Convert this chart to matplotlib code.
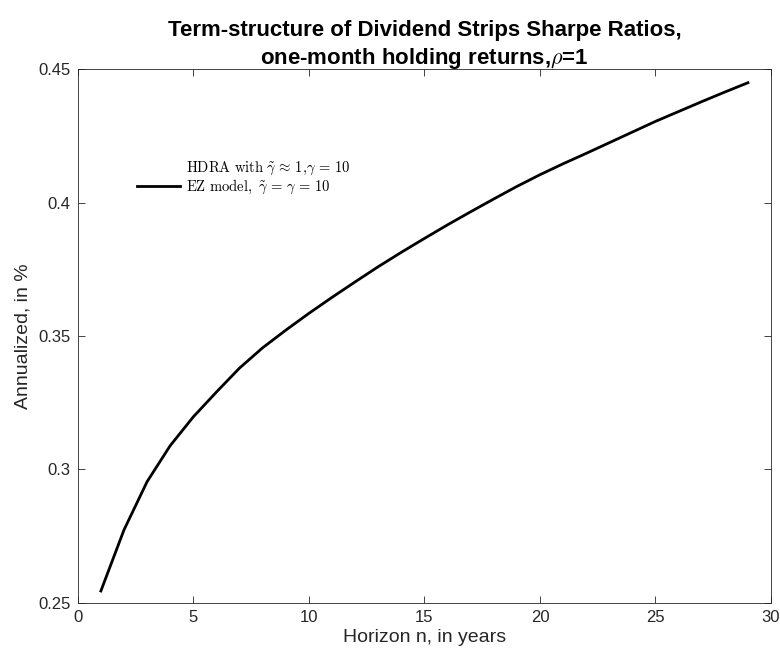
import numpy as np
import matplotlib
matplotlib.use("Agg")
import matplotlib.pyplot as plt
from matplotlib.lines import Line2D

# Sharpe ratios of dividend strips by horizon (one-month holding returns)
horizon = list(range(1, 30))
sharpe_ez = [0.2544, 0.2773, 0.2954, 0.3089, 0.3197, 0.3290, 0.3380, 0.3456,
             0.3522, 0.3585, 0.3645, 0.3703, 0.3760, 0.3814, 0.3866, 0.3917,
             0.3966, 0.4014, 0.4061, 0.4105, 0.4146, 0.4185, 0.4225, 0.4265,
             0.4305, 0.4342, 0.4379, 0.4415, 0.4450]

x_ticks = [0, 5, 10, 15, 20, 25, 30]
y_ticks = [0.25, 0.3, 0.35, 0.4, 0.45]
y_tick_labels = ["0.25", "0.3", "0.35", "0.4", "0.45"]

label_hdra = r"$\mathrm{HDRA\ with\ }\tilde{\gamma}\,\approx\,1{,}\gamma\,=\,10$"
label_ez = r"$\mathrm{EZ\ model,\ }\tilde{\gamma}\,=\,\gamma\,=\,10$"

plt.rcParams["font.family"] = ["Liberation Sans", "DejaVu Sans"]
plt.rcParams["mathtext.fontset"] = "cm"

axis_grey = "#262626"

fig = plt.figure(figsize=(7.8, 6.59), dpi=100)
ax = fig.add_axes([0.0997, 0.0854, 0.8888, 0.8093])

ax.plot(horizon, sharpe_ez, color="black", lw=2.0)

ax.set_xlim(0, 30)
ax.set_ylim(0.25, 0.45)
ax.set_xticks(x_ticks)
ax.set_yticks(y_ticks)
ax.set_yticklabels(y_tick_labels)
ax.tick_params(direction="in", length=5, width=0.6, colors=axis_grey,
               labelsize=12, top=True, right=True, pad=5)
for s in ax.spines.values():
    s.set_color(axis_grey)
    s.set_linewidth(0.6)

ax.set_xlabel("Horizon n, in years", fontsize=14, color=axis_grey, labelpad=3)
ax.set_ylabel("Annualized, in %", fontsize=14, color=axis_grey, labelpad=5)

title = "Term-structure of Dividend Strips Sharpe Ratios,\none-month holding returns,$\\rho$=1"
ax.set_title(title, fontsize=16, fontweight="bold", pad=4, linespacing=1.25)

# first entry has no drawn line, only its label
handles = [Line2D([], [], color="black", lw=2.0, linestyle="none"),
           Line2D([], [], color="black", lw=2.0)]
ax.legend(handles, [label_hdra, label_ez], loc="upper left",
          bbox_to_anchor=(0.066, 0.855), frameon=False, fontsize=10.5,
          handlelength=3.0, handletextpad=0.4, labelspacing=0.02)

fig.savefig("out.png", dpi=100)
